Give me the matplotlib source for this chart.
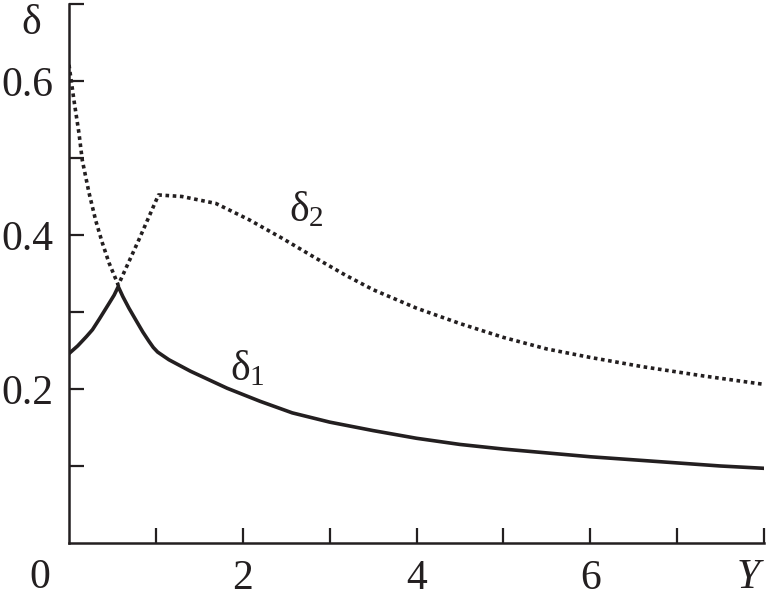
import matplotlib
matplotlib.use("Agg")
import matplotlib.pyplot as plt

plt.rcParams['font.family'] = ['Liberation Serif', 'DejaVu Serif']
plt.rcParams['mathtext.fontset'] = 'custom'
plt.rcParams['mathtext.rm'] = 'Liberation Serif'
plt.rcParams['mathtext.it'] = 'Liberation Serif:italic'

# data
Y1 = [0, 0.1, 0.2, 0.27, 0.35, 0.46, 0.52, 0.567, 0.62, 0.69, 0.767, 0.85,
      0.92, 0.97, 1.02, 1.15, 1.4, 1.82, 2.2, 2.57, 3.0, 3.5, 4.0, 4.5, 5.0,
      5.5, 6.0, 6.5, 7.0, 7.5, 8.0]
d1 = [0.246, 0.256, 0.268, 0.277, 0.291, 0.311, 0.322, 0.333, 0.320, 0.305,
      0.290, 0.274, 0.262, 0.254, 0.248, 0.238, 0.223, 0.201, 0.184, 0.169,
      0.157, 0.146, 0.136, 0.128, 0.122, 0.117, 0.112, 0.108, 0.104, 0.100,
      0.097]
Y2 = [0, 0.057, 0.115, 0.153, 0.23, 0.307, 0.383, 0.46, 0.567, 0.805, 1.03,
      1.3, 1.69, 2.07, 2.45, 2.84, 3.18, 3.5, 4.0, 4.5, 5.0, 5.5, 6.0, 6.6,
      7.3, 8.0]
d2 = [0.621, 0.575, 0.532, 0.497, 0.455, 0.419, 0.39, 0.364, 0.335, 0.394,
      0.452, 0.45, 0.441, 0.42, 0.396, 0.37, 0.348, 0.329, 0.305, 0.285,
      0.267, 0.252, 0.241, 0.229, 0.217, 0.206]

x_ticks = [1, 2, 3, 4, 5, 6, 7, 8]
x_labels = ['', '2', '', '4', '', '6', '', '']
y_ticks = [0.1, 0.2, 0.3, 0.4, 0.5, 0.6, 0.7]
y_labels = ['', '0.2', '', '0.4', '', '0.6', '']

ink = '#231f20'
fs = 30

fig = plt.figure(figsize=(7.66, 5.99), dpi=100)
ax = fig.add_axes([69/766, 1-543/599, (764-69)/766, (543-4)/599])

ax.plot(Y1, d1, color=ink, lw=2.6, solid_joinstyle='round')
ax.plot(Y2, d2, color=ink, lw=2.6, linestyle=(0, (1, 1)))

ax.set_xlim(0, 8)
ax.set_ylim(0, 0.7)
ax.set_xticks(x_ticks)
ax.set_xticklabels(x_labels)
ax.set_yticks(y_ticks)
ax.set_yticklabels(y_labels)

for s in ['top', 'right']:
    ax.spines[s].set_visible(False)
for s in ['left', 'bottom']:
    ax.spines[s].set_linewidth(1.8)
    ax.spines[s].set_color(ink)

ax.tick_params(direction='in', length=10.5, width=1.6, colors=ink,
               labelsize=fs, labelcolor=ink)
ax.tick_params(axis='y', pad=11)
ax.tick_params(axis='x', pad=12)

# extra labels
fig.text(748/766, 1-578/599, 'Y', fontsize=fs, style='italic', color=ink,
         ha='center', va='center')
fig.text(40/766, 1-578/599, '0', fontsize=fs, color=ink,
         ha='center', va='center')
fig.text(31/766, 1-24/599, 'δ', fontsize=fs, color=ink,
         ha='center', va='center')

ax.text(2.53, 0.432, r'δ$_2$', fontsize=fs, color=ink, ha='left', va='center')
ax.text(1.85, 0.225, r'δ$_1$', fontsize=fs, color=ink, ha='left', va='center')

fig.savefig('out.png', dpi=100)
